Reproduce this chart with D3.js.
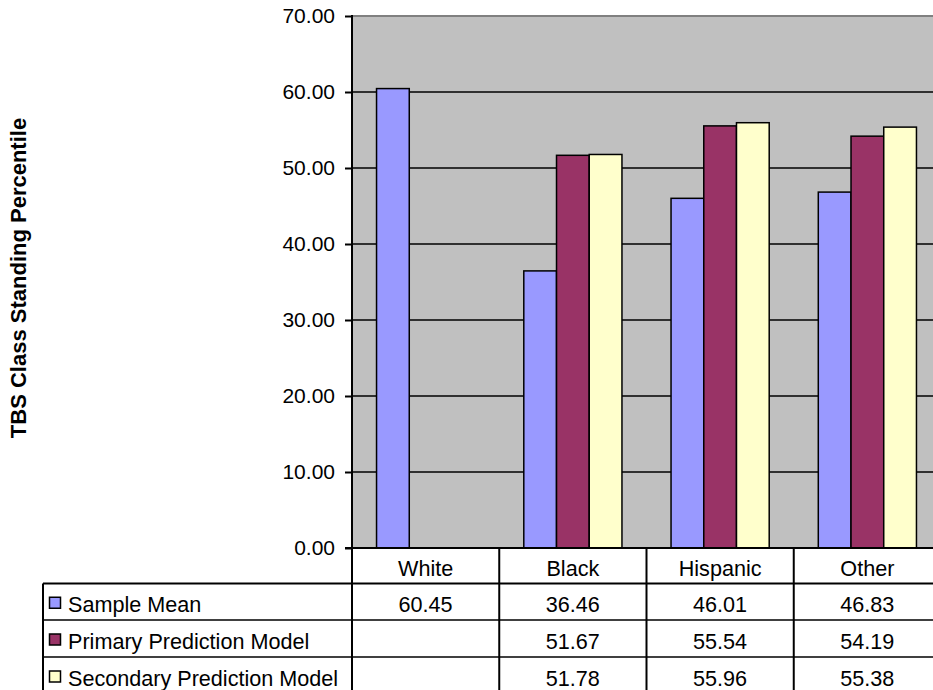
<!DOCTYPE html>
<html><head><meta charset="utf-8">
<script src="https://cdn.jsdelivr.net/npm/d3@7"></script>
<style>body{margin:0;background:#fff}svg{display:block}text{font-family:"Liberation Sans",Arial,sans-serif}</style>
</head><body><svg id="c" width="933" height="690"></svg>
<script>
const categories = ["White","Black","Hispanic","Other"];
const seriesNames = ["Sample Mean","Primary Prediction Model","Secondary Prediction Model"];
const sampleMean = [60.45,36.46,46.01,46.83];
const primaryModel = [null,51.67,55.54,54.19];
const secondaryModel = [null,51.78,55.96,55.38];
const yTicks = [0,10,20,30,40,50,60,70];
const colors = ["#9999FF","#993366","#FFFFCC"];
const seriesValues = [sampleMean, primaryModel, secondaryModel];

const FS = 21, TFS = 21.6;
const svg = d3.select("#c");
const pLeft = 352, pRight = 941, pTop = 16, pBottom = 548;
const x0 = d3.scaleBand().domain(categories).range([pLeft,pRight]);
const x1 = d3.scaleBand().domain(seriesNames).range([0,x0.bandwidth()]).paddingInner(0).paddingOuter(0.75);
const y = d3.scaleLinear().domain([0,70]).range([pBottom,pTop]);

svg.append("rect").attr("x",pLeft).attr("y",pTop).attr("width",pRight-pLeft).attr("height",pBottom-pTop).attr("fill","#C0C0C0");
svg.append("line").attr("x1",pLeft).attr("x2",pRight).attr("y1",pTop).attr("y2",pTop).attr("stroke","#808080").attr("stroke-width",2);

svg.append("g").selectAll("line").data(yTicks.filter(t=>t>0&&t<70)).join("line")
  .attr("x1",pLeft).attr("x2",pRight).attr("y1",d=>y(d)).attr("y2",d=>y(d)).attr("stroke","#000").attr("stroke-width",1.5);

const g = svg.append("g");
seriesValues.forEach((vals,si)=>{
  g.append("g").selectAll("rect").data(categories.map((c,i)=>({c,v:vals[i]})).filter(d=>d.v!=null)).join("rect")
    .attr("x",d=>x0(d.c)+x1(seriesNames[si]))
    .attr("width",x1.bandwidth())
    .attr("y",d=>y(d.v)).attr("height",d=>y(0)-y(d.v))
    .attr("fill",colors[si]).attr("stroke","#000").attr("stroke-width",1.5);
});

const ax = svg.append("g").attr("transform",`translate(${pLeft},0)`)
  .call(d3.axisLeft(y).tickValues(yTicks).tickFormat(d3.format(".2f")).tickSize(7).tickPadding(10));
ax.select(".domain").attr("stroke","#000").attr("stroke-width",2).attr("d",`M0,${pTop-1}V${pBottom}`);
ax.selectAll(".tick line").attr("stroke","#000").attr("stroke-width",2);
ax.selectAll(".tick text").attr("font-size",FS).attr("fill","#000").attr("font-family","Liberation Sans, Arial, sans-serif");

svg.append("line").attr("x1",pLeft-7).attr("x2",pRight).attr("y1",pBottom).attr("y2",pBottom).attr("stroke","#000").attr("stroke-width",2);

svg.append("text").attr("transform",`translate(26,${278}) rotate(-90)`).attr("text-anchor","middle")
  .attr("font-size",22).attr("font-weight","bold").text("TBS Class Standing Percentile");

const tLeft = 43;
const rowY = [548,583.5,620,657,694];
const tbl = svg.append("g");
[1,2,3].forEach(r=>{
  tbl.append("line").attr("x1",tLeft).attr("x2",pRight).attr("y1",rowY[r]).attr("y2",rowY[r]).attr("stroke","#000").attr("stroke-width",r===1?2:1.5);
});
tbl.append("line").attr("x1",tLeft).attr("x2",tLeft).attr("y1",rowY[1]).attr("y2",690).attr("stroke","#000").attr("stroke-width",2);
categories.concat(["_end"]).forEach((c)=>{
  const xx = c==="_end"?pRight:x0(c);
  tbl.append("line").attr("x1",xx).attr("x2",xx).attr("y1",pBottom).attr("y2",690).attr("stroke","#000").attr("stroke-width",2);
});
tbl.selectAll("text.cat").data(categories).join("text").attr("class","cat")
  .attr("x",d=>x0(d)+x0.bandwidth()/2).attr("y",(rowY[0]+rowY[1])/2+10).attr("text-anchor","middle").attr("font-size",TFS).text(d=>d);
seriesNames.forEach((s,si)=>{
  const cy = (rowY[si+1]+rowY[si+2])/2;
  tbl.append("rect").attr("x",49.5).attr("y",cy-4.5).attr("width",11).attr("height",11).attr("fill",colors[si]).attr("stroke","#000").attr("stroke-width",1.5);
  tbl.append("text").attr("x",68).attr("y",cy+10.5).attr("font-size",TFS).text(s);
  tbl.append("g").selectAll("text").data(categories.map((c,i)=>({c,v:seriesValues[si][i]})).filter(d=>d.v!=null)).join("text")
    .attr("x",d=>x0(d.c)+x0.bandwidth()/2).attr("y",cy+10).attr("text-anchor","middle").attr("font-size",TFS)
    .text(d=>d3.format(".2f")(d.v));
});
</script></body></html>
